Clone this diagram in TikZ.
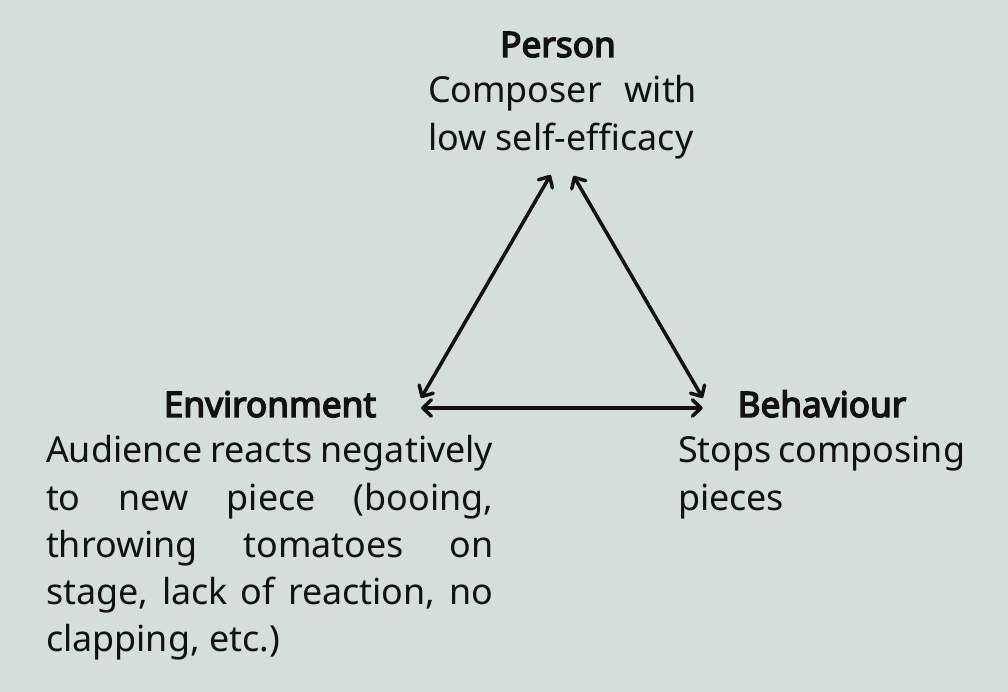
\documentclass[tikz,border=0pt]{standalone}
\usepackage{fontspec}
\setmainfont{Noto Sans}[AutoFakeBold=4]
\usetikzlibrary{arrows.meta,calc}

\definecolor{bgcol}{RGB}{212,222,219}
\definecolor{inkcol}{RGB}{17,17,17}

\begin{document}
\begin{tikzpicture}[x=0.01cm, y=-0.01cm,
  every node/.style={inner sep=0pt, outer sep=0pt, text=inkcol},
  heading/.style={font=\fontsize{10}{13.4}\selectfont\bfseries},
  blurb/.style={font=\fontsize{10.2}{13.4}\selectfont, align=justify},
  link/.style={draw=inkcol, line width=1pt, line cap=round, line join=round,
    {Straight Barb[length=2.4pt,width=4.6pt,round]}-{Straight Barb[length=2.4pt,width=4.6pt,round]}}]

% background and page size
\fill[bgcol] (0,0) rectangle (1008,692);
\useasboundingbox (0,0) rectangle (1008,692);

% the three corners
\node[heading, anchor=base] (persontitle) at (558,57) {Person};
\node[blurb, text width=2.69cm, anchor=base west] (persontext) at (428,103)
  {Composer with\linebreak low self-efficacy};

\node[heading, anchor=base] (envtitle) at (270,417) {Environment};
\node[blurb, text width=4.47cm, anchor=base west] (envtext) at (46,463)
  {Audience reacts negatively\linebreak to new piece (booing,\linebreak
   throwing tomatoes on\linebreak stage, lack of reaction, no\linebreak
   clapping, etc.)};

\node[heading, anchor=base] (behtitle) at (822,417) {Behaviour};
\node[blurb, text width=2.87cm, anchor=base west] (behtext) at (678,463)
  {Stops composing\linebreak pieces};

% arrows between them
\draw[link] ($(persontext.base)+(-12,72)$) -- ($(envtitle.base east)+(45,-19)$);
\draw[link] ($(persontext.base)+(11,73)$) -- ($(behtitle.base west)+(-35,-19)$);
\draw[link] ($(envtitle.base east)+(45,-9)$) -- ($(behtitle.base west)+(-35,-9)$);
\end{tikzpicture}
\end{document}
